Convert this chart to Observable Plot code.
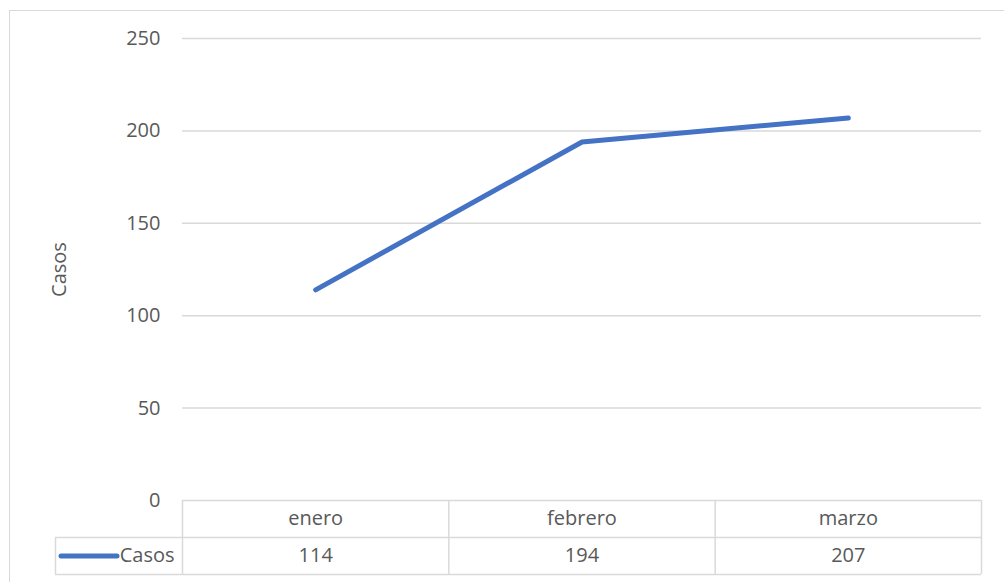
<!DOCTYPE html>
<html>
<head>
<meta charset="utf-8">
<script src="https://cdn.jsdelivr.net/npm/d3@7"></script>
<script src="https://cdn.jsdelivr.net/npm/@observablehq/plot@0.6"></script>
<style>
  html, body { margin: 0; padding: 0; background: #fff; overflow: hidden; }
  #wrap { position: relative; width: 1004px; height: 582px; overflow: hidden; }
  #frame { position: absolute; left: 9px; top: 10px; width: 1100px; height: 700px; border: 1.5px solid #d9d9d9; box-sizing: border-box; }
  #chart { position: absolute; left: 0; top: 0; }
</style>
</head>
<body>
<div id="wrap"><div id="frame"></div><div id="chart"></div></div>
<script>
// ---- data ----
const months = ["enero", "febrero", "marzo"];
const casos = [114, 194, 207];
const seriesName = "Casos";
const yTicks = [0, 50, 100, 150, 200, 250];

// ---- layout ----
const W = 1004, H = 582;
const mL = 182, mR = 23, mT = 38, mB = 82;
const unitPx = (W - mL - mR) / months.length;   // px per category
const legendLeftPx = 55;                          // left edge of legend cell
const legendX = -0.5 - (mL - legendLeftPx) / unitPx;
const swatchX1 = -0.5 - (mL - 61) / unitPx;
const swatchX2 = -0.5 - (mL - 117) / unitPx;
const rowH = 20; // table row height in y units
const grey = "#d9d9d9";
const txt = "#595959";
const blue = "#4472C4";

const idx = months.map((_, i) => i);
const colEdges = [-0.5, ...idx.map(i => i + 0.5)];

const plot = Plot.plot({
  width: W, height: H,
  marginLeft: mL, marginRight: mR, marginTop: mT, marginBottom: mB,
  style: { fontFamily: "'Open Sans', sans-serif", fontSize: "20px", color: txt, background: "transparent" },
  x: { type: "linear", domain: [-0.5, months.length - 0.5], axis: null },
  y: { domain: [0, 250], ticks: yTicks, tickSize: 0, tickPadding: 22, label: null },
  marks: [
    // gridlines (0 line is the table top)
    Plot.ruleY(yTicks, { stroke: grey, strokeWidth: 1.5 }),
    // table horizontal lines
    Plot.ruleY([-rowH, -2 * rowH], { x1: legendX, x2: months.length - 0.5, stroke: grey, strokeWidth: 1.5 }),
    // table vertical lines
    Plot.ruleX(colEdges, { y1: 0, y2: -2 * rowH, stroke: grey, strokeWidth: 1.5 }),
    Plot.ruleX([legendX], { y1: -rowH, y2: -2 * rowH, stroke: grey, strokeWidth: 1.5 }),
    // header row: categories
    Plot.text(months, { x: (d, i) => i, y: -rowH / 2, text: d => d, fill: txt, fontSize: 20 }),
    // value row
    Plot.text(casos, { x: (d, i) => i, y: -1.5 * rowH, text: d => String(d), fill: txt, fontSize: 20 }),
    // legend key
    Plot.ruleY([-1.5 * rowH], { x1: swatchX1, x2: swatchX2, stroke: blue, strokeWidth: 5, strokeLinecap: "round" }),
    Plot.text([seriesName], { x: -0.5, y: -1.5 * rowH, dx: -8, textAnchor: "end", fill: txt, fontSize: 20 }),
    // y axis title
    Plot.text([seriesName], { frameAnchor: "left", dx: -123, rotate: -90, textAnchor: "middle", fill: txt, fontSize: 20 }),
    // the series line
    Plot.line(casos, { x: (d, i) => i, y: d => d, stroke: blue, strokeWidth: 5, strokeLinecap: "round", strokeLinejoin: "round" })
  ]
});
document.getElementById("chart").appendChild(plot);
</script>
</body>
</html>
